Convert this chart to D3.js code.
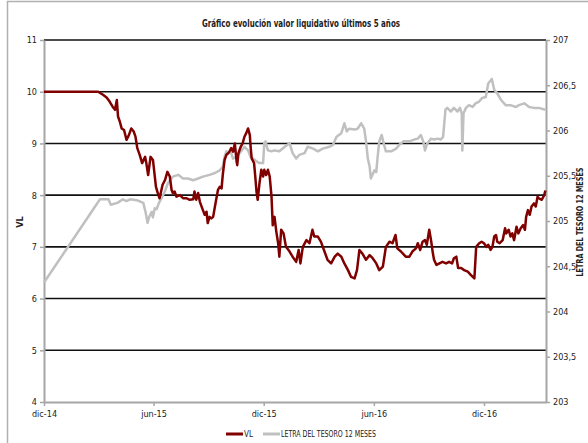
<!DOCTYPE html>
<html>
<head>
<meta charset="utf-8">
<script src="https://cdn.jsdelivr.net/npm/d3@7"></script>
<style>
  body { margin: 0; background: #fff; }
  svg { display: block; }
  text { font-family: "Liberation Sans Narrow", "DejaVu Sans Condensed", "Liberation Sans", sans-serif; fill: #222; }
</style>
</head>
<body>
<svg id="chart" width="588" height="443"></svg>
<script>
// x values are days counted from 1 dic 2014
var startDate = new Date(2014, 11, 1);
var lastDay = 834;

var vlDays = [0, 90, 98, 104, 109, 114, 118, 121, 123, 126, 129, 133, 137, 141, 145, 149, 152, 155, 159, 163,
  168, 170, 173, 177, 181, 186, 190, 192, 197, 201, 205, 209, 212, 214, 217, 220, 226, 231, 237, 242,
  248, 250, 253, 256, 259, 264, 267, 270, 272, 275, 278, 281, 284, 286, 289, 292, 295, 297, 300, 303,
  306, 308, 311, 314, 317, 320, 321, 323, 327, 330, 333, 336, 339, 342, 343, 345, 349, 351, 353, 355,
  358, 361, 364, 366, 369, 372, 375, 378, 380, 383, 386, 389, 391, 394, 398, 402, 408, 413, 419, 423,
  426, 430, 436, 441, 446, 449, 455, 460, 466, 471, 477, 483, 488, 494, 499, 505, 510, 516, 520, 524,
  529, 535, 541, 546, 552, 557, 563, 568, 574, 579, 584, 587, 593, 601, 607, 612, 618, 621, 625, 629,
  633, 636, 640, 643, 646, 648, 652, 657, 662, 668, 673, 678, 681, 685, 688, 693, 698, 704, 709, 715,
  716, 718, 723, 727, 731, 735, 738, 742, 745, 748, 751, 753, 757, 762, 766, 768, 772, 775, 778, 781,
  785, 788, 792, 796, 799, 801, 804, 807, 810, 814, 817, 820, 822, 827, 831, 833];
var vlValues = [10.00, 10.00, 9.94, 9.89, 9.81, 9.71, 9.65, 9.84, 9.52, 9.42, 9.29, 9.26, 9.07, 9.16, 9.29, 9.23, 9.13, 8.91, 8.78, 8.62,
  8.74, 8.62, 8.39, 8.74, 8.68, 8.16, 8.00, 7.94, 8.20, 8.29, 8.45, 8.36, 8.10, 8.04, 8.07, 7.97, 8.00, 7.94, 7.94, 7.91,
  7.92, 8.07, 7.91, 8.04, 7.87, 7.71, 7.62, 7.68, 7.46, 7.58, 7.55, 7.58, 7.78, 7.91, 8.10, 8.16, 8.13, 8.39, 8.68, 8.78,
  8.81, 8.84, 8.91, 8.84, 9.00, 8.65, 8.58, 8.81, 8.94, 9.00, 9.13, 9.20, 9.29, 9.16, 8.97, 8.71, 8.62, 8.36, 8.07, 7.91,
  8.23, 8.49, 8.36, 8.49, 8.39, 8.49, 8.36, 7.97, 7.42, 7.58, 7.29, 7.07, 6.81, 7.33, 7.26, 7.00, 6.91, 6.81, 6.71, 6.94,
  6.68, 7.00, 7.13, 7.07, 7.33, 7.20, 7.20, 7.10, 6.91, 6.75, 6.68, 6.81, 6.87, 6.81, 6.68, 6.55, 6.42, 6.39, 6.55, 6.94,
  6.87, 6.75, 6.84, 6.78, 6.68, 6.55, 6.62, 7.00, 7.10, 7.07, 7.23, 6.97, 6.91, 6.81, 6.81, 6.91, 6.97, 7.07, 6.94, 7.10,
  7.13, 7.04, 7.33, 7.13, 6.88, 6.75, 6.65, 6.68, 6.71, 6.68, 6.71, 6.68, 6.78, 6.81, 6.59, 6.59, 6.55, 6.52, 6.46, 6.39,
  6.59, 7.00, 7.07, 7.10, 7.07, 7.00, 7.04, 6.94, 7.00, 7.20, 7.23, 7.10, 7.07, 7.13, 7.36, 7.26, 7.33, 7.20, 7.26, 7.13,
  7.39, 7.26, 7.36, 7.42, 7.33, 7.58, 7.71, 7.62, 7.78, 7.84, 7.78, 7.97, 7.94, 7.91, 8.00, 8.09];

var letraDays = [0, 93, 107, 111, 122, 131, 137, 143, 154, 165, 169, 172, 175, 179, 181, 184, 187, 191, 195, 201,
  206, 214, 223, 231, 239, 248, 256, 264, 275, 284, 292, 297, 300, 303, 311, 314, 320, 325, 333, 339,
  343, 347, 353, 358, 364, 366, 368, 372, 378, 383, 391, 400, 408, 413, 419, 424, 433, 438, 447, 455,
  463, 474, 480, 486, 494, 499, 503, 507, 516, 521, 527, 532, 535, 538, 541, 543, 549, 552, 554, 557,
  561, 565, 568, 577, 585, 590, 597, 601, 607, 615, 621, 626, 630, 633, 637, 643, 648, 654, 659, 663,
  667, 670, 676, 681, 687, 691, 694, 695, 697, 701, 706, 712, 717, 723, 728, 734, 738, 744, 748, 753,
  759, 767, 775, 784, 789, 798, 806, 814, 822, 833];
var letraValues = [204.32, 205.24, 205.24, 205.18, 205.20, 205.24, 205.22, 205.24, 205.23, 205.20, 205.09, 204.98, 205.05, 205.10, 205.04, 205.14, 205.13, 205.20, 205.25, 205.33,
  205.42, 205.49, 205.51, 205.47, 205.47, 205.45, 205.47, 205.49, 205.51, 205.53, 205.56, 205.60, 205.71, 205.77, 205.75, 205.69, 205.71, 205.75, 205.82, 205.78,
  205.71, 205.69, 205.66, 205.64, 205.64, 205.86, 205.88, 205.78, 205.77, 205.78, 205.77, 205.82, 205.86, 205.75, 205.69, 205.73, 205.75, 205.82, 205.80, 205.77,
  205.80, 205.82, 205.84, 205.93, 205.97, 206.08, 205.99, 206.02, 206.01, 206.02, 206.08, 206.02, 205.88, 205.69, 205.60, 205.47, 205.56, 205.54, 205.69, 205.88,
  205.95, 205.84, 205.77, 205.77, 205.80, 205.84, 205.88, 205.88, 205.88, 205.90, 205.91, 205.95, 205.88, 205.78, 205.86, 205.91, 205.90, 205.91, 205.90, 205.93,
  206.23, 206.25, 206.21, 206.25, 206.21, 206.25, 206.19, 205.78, 206.19, 206.25, 206.28, 206.26, 206.30, 206.32, 206.36, 206.37, 206.52, 206.57, 206.45, 206.41,
  206.34, 206.28, 206.28, 206.26, 206.28, 206.30, 206.26, 206.25, 206.25, 206.23];

var leftTicks = [4, 5, 6, 7, 8, 9, 10, 11];
var gridValues = [5, 6, 7, 8, 9, 10, 11];
var rightTicks = [203, 203.5, 204, 204.5, 205, 205.5, 206, 206.5, 207];
var xTickDates = [new Date(2014, 11, 1), new Date(2015, 5, 1), new Date(2015, 11, 1), new Date(2016, 5, 1), new Date(2016, 11, 1)];
var xTickLabels = ["dic-14", "jun-15", "dic-15", "jun-16", "dic-16"];

var vlColor = "#800000";
var letraColor = "#c0c0c0";
var axisColor = "#a6a6a6";

var plot = {l: 44, r: 546, t: 40, b: 402};

var svg = d3.select("#chart");

// outer frame
svg.append("rect")
  .attr("x", 7.5).attr("y", 1.5)
  .attr("width", 620).attr("height", 480)
  .attr("fill", "#fff")
  .attr("stroke", "#b0b0b0")
  .attr("stroke-width", 1.5);

var x = d3.scaleTime()
  .domain([startDate, d3.timeDay.offset(startDate, lastDay)])
  .range([plot.l, plot.r]);
var yLeft = d3.scaleLinear().domain([4, 11]).range([plot.b, plot.t]);
var yRight = d3.scaleLinear().domain([203, 207]).range([plot.b, plot.t]);

// grid lines
svg.append("g").selectAll("line")
  .data(gridValues)
  .join("line")
  .attr("x1", plot.l).attr("x2", plot.r)
  .attr("y1", d => yLeft(d)).attr("y2", d => yLeft(d))
  .attr("stroke", "#111")
  .attr("stroke-width", 1.6);

function styleAxis(g) {
  g.select(".domain").attr("stroke", axisColor).attr("stroke-width", 2);
  g.selectAll(".tick line").attr("stroke", axisColor).attr("stroke-width", 1.5);
  g.selectAll(".tick text").attr("fill", "#333").style("font-size", "9px");
}

svg.append("g")
  .attr("transform", "translate(" + plot.l + ",0)")
  .call(d3.axisLeft(yLeft).tickValues(leftTicks).tickFormat(d3.format("d")).tickSize(4).tickSizeOuter(0).tickPadding(3))
  .call(styleAxis);

svg.append("g")
  .attr("transform", "translate(" + plot.r + ",0)")
  .call(d3.axisRight(yRight).tickValues(rightTicks).tickFormat(d => String(d).replace(".", ",")).tickSize(4).tickSizeOuter(0).tickPadding(3))
  .call(styleAxis);

svg.append("g")
  .attr("transform", "translate(0," + plot.b + ")")
  .call(d3.axisBottom(x).tickValues(xTickDates).tickFormat((d, i) => xTickLabels[i]).tickSize(4).tickSizeOuter(0).tickPadding(5))
  .call(styleAxis);

// series
var letraData = letraDays.map((d, i) => ({date: d3.timeDay.offset(startDate, d), value: letraValues[i]}));
var vlData = vlDays.map((d, i) => ({date: d3.timeDay.offset(startDate, d), value: vlValues[i]}));

svg.append("path")
  .datum(letraData)
  .attr("fill", "none")
  .attr("stroke", letraColor)
  .attr("stroke-width", 2.5)
  .attr("stroke-linejoin", "round")
  .attr("d", d3.line().x(d => x(d.date)).y(d => yRight(d.value)));

svg.append("path")
  .datum(vlData)
  .attr("fill", "none")
  .attr("stroke", vlColor)
  .attr("stroke-width", 2.5)
  .attr("stroke-linejoin", "round")
  .attr("d", d3.line().x(d => x(d.date)).y(d => yLeft(d.value)));

// titles
svg.append("text")
  .attr("x", 301).attr("y", 27)
  .attr("text-anchor", "middle")
  .attr("font-weight", "bold")
  .style("font-size", "10.5px")
  .attr("textLength", 198).attr("lengthAdjust", "spacingAndGlyphs")
  .text("Gráfico evolución valor liquidativo últimos 5 años");

svg.append("text")
  .attr("transform", "translate(23,222) rotate(-90)")
  .attr("text-anchor", "middle")
  .attr("font-weight", "bold")
  .style("font-size", "9px")
  .text("VL");

svg.append("text")
  .attr("transform", "translate(583,222) rotate(-90)")
  .attr("text-anchor", "middle")
  .attr("font-weight", "bold")
  .style("font-size", "9px")
  .attr("textLength", 109).attr("lengthAdjust", "spacingAndGlyphs")
  .text("LETRA DEL TESORO  12 MESES");

// legend
var legend = svg.append("g").attr("transform", "translate(226,434)");
legend.append("line").attr("x1", 0).attr("x2", 17).attr("stroke", vlColor).attr("stroke-width", 3);
legend.append("text").attr("x", 18).attr("y", 3).style("font-size", "8px").text("VL");
legend.append("line").attr("x1", 37).attr("x2", 54).attr("stroke", letraColor).attr("stroke-width", 3);
legend.append("text").attr("x", 55).attr("y", 3).style("font-size", "8px")
  .attr("textLength", 95).attr("lengthAdjust", "spacingAndGlyphs")
  .text("LETRA DEL TESORO 12 MESES");
</script>
</body>
</html>
